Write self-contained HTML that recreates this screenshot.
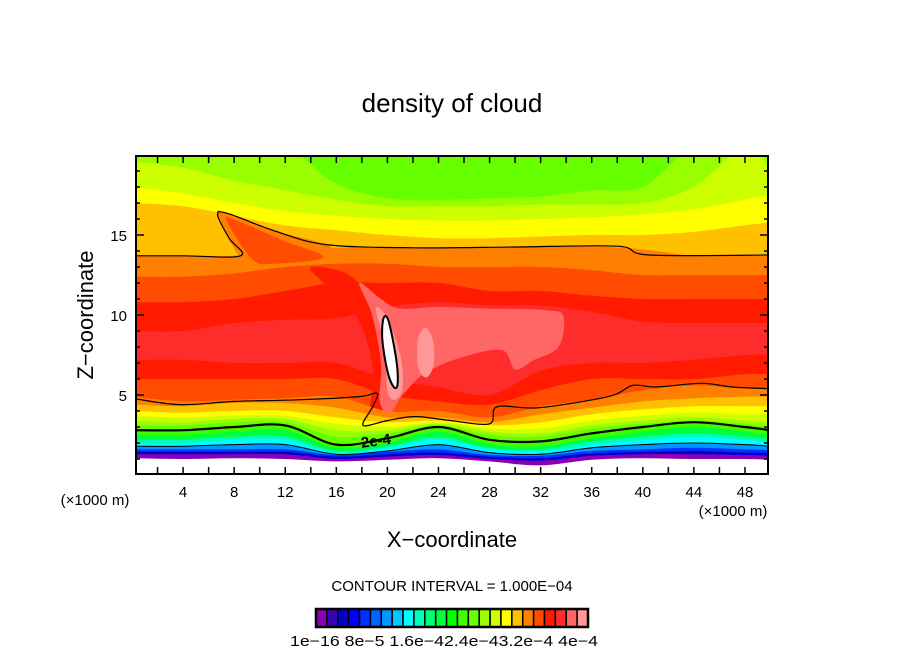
<!DOCTYPE html>
<html><head><meta charset="utf-8"><style>
html,body{margin:0;padding:0;background:#fff;}
svg{display:block;}
text{font-family:"Liberation Sans",sans-serif;fill:#000;}
</style></head><body>
<svg id="chart" width="904" height="654" viewBox="0 0 904 654" xmlns="http://www.w3.org/2000/svg">
<defs><clipPath id="plotclip"><rect x="136" y="156" width="632" height="318"/></clipPath></defs>
<text x="452" y="112" font-size="26" text-anchor="middle">density of cloud</text>
<g id="field" clip-path="url(#plotclip)"></g>
<g id="lines" clip-path="url(#plotclip)"></g>
<text x="361" y="446" font-size="15" font-weight="bold" transform="rotate(-8 375 442)">2e-4</text>
<rect x="136" y="156" width="632" height="318" fill="none" stroke="#000" stroke-width="2"/>
<g id="ticks"></g>
<g id="xlabels" font-size="15"></g>
<g id="ylabels" font-size="15"></g>
<text x="95" y="505" font-size="15" text-anchor="middle">(×1000 m)</text>
<text x="733" y="516" font-size="15" text-anchor="middle">(×1000 m)</text>
<text x="452" y="547" font-size="22" text-anchor="middle">X−coordinate</text>
<text x="0" y="0" font-size="22" text-anchor="middle" transform="translate(93 315) rotate(-90)">Z−coordinate</text>
<text x="452" y="591" font-size="15" text-anchor="middle">CONTOUR INTERVAL = 1.000E−04</text>
<g id="colorbar"></g>
<text x="290" y="646" font-size="14.5" textLength="308" lengthAdjust="spacingAndGlyphs">1e−16 8e−5 1.6e−42.4e−43.2e−4 4e−4</text>
</svg>
<script>
const levelColors=['#8a00b4','#3c00b4','#0000c8','#0000ff','#0032ff','#0064ff','#0096ff','#00c8ff','#00ffff','#00ffb4','#00ff78','#00ff3c','#00ff00','#3cff00','#66ff00','#99ff00','#ccff00','#ffff00','#ffc000','#ff8000','#ff4c00','#ff1a00','#ff2c2c','#ff6666','#ff9999'];
const xSamples=[0,4,8,12,16,20,24,28,32,36,40,44,48,50];
const upperLevels=[15,16,17,18,19,20,21,22];
const upperZ=[
[20.5,20.5,20.5,20.5,18.2,17.3,17.2,17.3,17.4,17.8,18.0,20.5,20.5,20.5],
[19.6,19.2,18.4,17.8,17.2,16.8,16.8,16.8,16.9,16.9,17.0,18.0,20.5,19.0],
[18.0,17.6,17.0,16.5,16.2,16.0,15.9,15.9,16.0,16.1,16.3,16.6,17.2,17.5],
[17.0,16.8,16.2,15.6,15.3,15.0,14.8,14.8,14.9,15.0,15.0,15.2,15.6,15.8],
[13.7,13.7,13.7,14.0,14.2,14.2,14.2,14.2,14.3,14.3,14.1,13.7,13.7,13.7],
[12.4,12.4,12.6,13.0,13.2,13.2,13.0,13.0,13.0,12.8,12.5,12.5,12.5,12.5],
[10.8,10.8,11.0,11.5,12.0,12.0,12.0,11.5,11.5,11.2,11.0,11.0,11.0,11.0],
[9.0,9.0,9.5,9.7,9.8,10.5,10.8,10.6,10.6,10.2,9.6,9.5,9.5,9.5]];
const lowerLevels=[21,20,19,18,17,16,15,14,13,11,9,8,6,4,2,0,-1];
const lowerZ=[
[7.2,7.2,7.0,7.0,7.0,6.0,5.5,5.0,6.5,7.0,7.0,7.2,7.5,7.5],
[6.0,6.0,6.0,6.0,6.0,5.0,4.6,4.4,5.3,6.0,6.0,6.0,6.3,6.3],
[4.9,4.6,4.7,4.8,4.9,4.0,4.0,3.6,4.3,4.7,5.3,5.6,5.4,5.5],
[4.4,4.3,4.5,4.5,4.2,3.6,3.6,3.3,3.8,4.2,4.6,4.8,4.9,4.9],
[4.0,3.9,4.0,4.0,3.6,3.3,3.4,3.1,3.3,3.8,4.1,4.3,4.3,4.3],
[3.7,3.6,3.7,3.7,3.2,3.0,3.3,2.9,2.9,3.4,3.7,3.9,3.8,3.8],
[3.4,3.3,3.5,3.5,2.8,2.8,3.2,2.7,2.6,3.1,3.4,3.6,3.4,3.3],
[3.1,3.1,3.3,3.3,2.4,2.6,3.1,2.5,2.4,2.9,3.2,3.4,3.2,3.0],
[2.8,2.8,3.0,3.1,1.9,2.3,3.0,2.2,2.1,2.6,3.0,3.3,3.0,2.8],
[2.5,2.5,2.7,2.8,1.7,2.0,2.7,1.9,1.8,2.3,2.7,3.0,2.7,2.5],
[2.2,2.2,2.4,2.4,1.5,1.8,2.4,1.7,1.6,2.1,2.4,2.6,2.4,2.2],
[2.0,2.0,2.2,2.2,1.4,1.7,2.2,1.6,1.5,1.9,2.2,2.4,2.2,2.0],
[1.8,1.8,1.9,1.9,1.3,1.5,1.9,1.4,1.3,1.7,1.9,2.0,1.9,1.8],
[1.6,1.6,1.6,1.6,1.25,1.45,1.6,1.25,1.2,1.5,1.6,1.7,1.6,1.55],
[1.45,1.45,1.45,1.45,1.15,1.3,1.4,1.15,1.05,1.35,1.45,1.5,1.4,1.4],
[1.3,1.3,1.3,1.3,1.0,1.15,1.25,1.0,0.9,1.2,1.3,1.3,1.25,1.2],
[1.05,1.0,1.05,1.0,0.85,0.95,1.05,0.85,0.6,0.95,1.05,1.0,1.0,0.95]];
const tongueOrange=[[8.5,13.6],[6.7,16.25],[7.5,16.35],[11,15.3],[15.2,14.4],[16,13.5],[10,13.3]];
const tongueRed=[[9.4,13.5],[7.4,15.9],[8.2,15.9],[12,14.6],[15,13.6],[11,13.2]];
const plumeRed=[[14,13.0],[17,12.5],[19,10.5],[20,7],[20.5,4.5],[19.5,3.4],[17.8,3.1],[18.6,4.2],[18.8,7],[17.5,10],[15,12]];
const plumeSalmon=[[17.8,12.0],[19.5,11.0],[21,10.4],[24,10.5],[28,10.4],[32.5,10.3],[33.8,9.9],[33.4,8.0],[31.5,7.2],[30,6.6],[29,7.8],[26,7.4],[23,6.4],[21.2,5.0],[20.2,3.9],[19.4,4.6],[19.5,7.0],[18.8,10.0]];
const plumePink=[[19.1,10.4],[20.0,9.8],[21.0,7.5],[21.2,5.5],[20.6,4.7],[20.0,5.3],[19.8,8.0]];
const pinkBlob=[[23.0,9.2],[23.6,8.3],[23.6,6.8],[23.0,6.1],[22.4,6.8],[22.4,8.5]];
const whiteCore=[[19.7,9.8],[20.1,9.6],[20.7,7.2],[20.8,5.7],[20.5,5.5],[20.0,6.5],[19.6,8.5]];
const contourUpper=[[0,13.7],[4,13.7],[8.5,13.7],[7.6,14.8],[6.7,16.25],[7.5,16.35],[11,15.3],[15.2,14.4],[22.2,14.2],[30,14.25],[38,14.3],[40.5,13.75],[50,13.75]];
const contourLower=[[0,4.8],[3.7,4.4],[8,4.6],[13,4.7],[17.8,4.9],[19.2,5.1],[18.8,4.2],[18.1,3.1],[20,3.4],[22.2,3.65],[25,3.4],[28,3.2],[28.6,4.27],[31.8,4.2],[37.3,4.9],[39.2,5.6],[41,5.5],[44.6,5.73],[47,5.5],[49.8,5.4]];
const contourThickIdx=8;
const contourThinIdx=12;
const xTicks=[2,4,6,8,10,12,14,16,18,20,22,24,26,28,30,32,34,36,38,40,42,44,46,48];
const xTickLabels=['4','8','12','16','20','24','28','32','36','40','44','48'];
const xLabelValues=[4,8,12,16,20,24,28,32,36,40,44,48];
const yLabelValues=[5,10,15];
const yTickLabels=['5','10','15'];
const yMinor=[1,2,3,4,5,6,7,8,9,10,11,12,13,14,15,16,17,18,19];

const NS='http://www.w3.org/2000/svg';
const X=x=>132+12.77*x, Z=z=>475-16*z;
function mk(tag,attrs,parent){const e=document.createElementNS(NS,tag);for(const k in attrs)e.setAttribute(k,attrs[k]);parent.appendChild(e);return e;}
function seg(pts,closed){
  const n=pts.length;let d=`M${pts[0][0].toFixed(1)},${pts[0][1].toFixed(1)}`;
  const m=closed?n:n-1;
  for(let i=0;i<m;i++){
    const g=j=>closed?pts[(j+n)%n]:pts[Math.max(0,Math.min(n-1,j))];
    const p0=g(i-1),p1=g(i),p2=g(i+1),p3=g(i+2);
    const c1=[p1[0]+(p2[0]-p0[0])/6,p1[1]+(p2[1]-p0[1])/6];
    const c2=[p2[0]-(p3[0]-p1[0])/6,p2[1]-(p3[1]-p1[1])/6];
    d+=`C${c1[0].toFixed(1)},${c1[1].toFixed(1)} ${c2[0].toFixed(1)},${c2[1].toFixed(1)} ${p2[0].toFixed(1)},${p2[1].toFixed(1)}`;
  }
  return d+(closed?'Z':'');
}
const px=arr=>arr.map(p=>[X(p[0]),Z(p[1])]);
const field=document.getElementById('field');
let bg=mk('rect',{x:130,y:150,width:650,height:330,fill:levelColors[14]},field);


function band(zs,color,name){
  const pts=xSamples.map((x,i)=>[X(x),Z(zs[i])]);
  const d=seg(pts,false)+`L${X(51)},${Z(-1)}L${X(-1)},${Z(-1)}L${X(-1)},${pts[0][1]}Z`;
  const p=mk('path',{d:d,fill:color},field);
  
  
}
upperLevels.forEach((lv,i)=>band(upperZ[i],levelColors[lv],'band-upper-'+lv));
function shape(arr,color,name){
  const p=mk('path',{d:seg(px(arr),true),fill:color},field);
  
  
  return p;
}
shape(tongueOrange,levelColors[19],'tongue-orange');
shape(tongueRed,levelColors[20],'tongue-red');
lowerLevels.forEach((lv,i)=>{ if(i<2) band(lowerZ[i],levelColors[lv],'band-lower-'+lv); });
shape(plumeRed,levelColors[21],'plume-red');
lowerLevels.forEach((lv,i)=>{ if(i>=2) band(lowerZ[i],lv<0?'#ffffff':levelColors[lv],'band-lower-'+(lv<0?'empty':lv)); });
shape(plumeSalmon,levelColors[23],'plume-salmon');
shape(plumePink,levelColors[24],'plume-pink');
shape(pinkBlob,levelColors[24],'plume-pink-blob');
const wc=shape(whiteCore,'#ffffff','plume-core');
wc.setAttribute('stroke','#000');wc.setAttribute('stroke-width','2');

const lines=document.getElementById('lines');
function cline(arr,w,name){
  const p=mk('path',{d:seg(px(arr),false),fill:'none',stroke:'#000','stroke-width':w},lines);
  
  
}
cline(contourUpper,1.2,'contour-upper');
cline(contourLower,1.2,'contour-lower');
cline(xSamples.map((x,i)=>[x,lowerZ[contourThickIdx][i]]),2.2,'contour-2e-4');
cline(xSamples.map((x,i)=>[x,lowerZ[contourThinIdx][i]]),1,'contour-base');

const ticks=document.getElementById('ticks');
xTicks.forEach(v=>{
  const t1=mk('line',{x1:X(v),x2:X(v),y1:474,y2:467,stroke:'#000','stroke-width':1.5},ticks);
  
  
  const t2=mk('line',{x1:X(v),x2:X(v),y1:156,y2:163,stroke:'#000','stroke-width':1.5},ticks);
  
  
});
yMinor.forEach(v=>{
  const L=(v%5===0)?8:4;
  const t1=mk('line',{x1:136,x2:136+L,y1:Z(v),y2:Z(v),stroke:'#000','stroke-width':1.5},ticks);
  
  
  const t2=mk('line',{x1:768,x2:768-L,y1:Z(v),y2:Z(v),stroke:'#000','stroke-width':1.5},ticks);
  
  
});
const xl=document.getElementById('xlabels');
xLabelValues.forEach((v,i)=>{
  const t=mk('text',{x:X(v),y:497,'text-anchor':'middle'},xl);
  t.textContent=xTickLabels[i];
  
  
});
const yl=document.getElementById('ylabels');
yLabelValues.forEach((v,i)=>{
  const t=mk('text',{x:127,y:Z(v)+6,'text-anchor':'end'},yl);
  t.textContent=yTickLabels[i];
  
  
});
const cb=document.getElementById('colorbar');
const cbX=316,cbW=272/levelColors.length;
levelColors.forEach((c,i)=>{
  const r=mk('rect',{x:cbX+i*cbW,y:609,width:cbW,height:18,fill:c,stroke:'#000','stroke-width':1.5},cb);
  
  
});
const cbo=mk('rect',{x:cbX,y:609,width:272,height:18,fill:'none',stroke:'#000','stroke-width':2.5},cb);


</script>
</body></html>
